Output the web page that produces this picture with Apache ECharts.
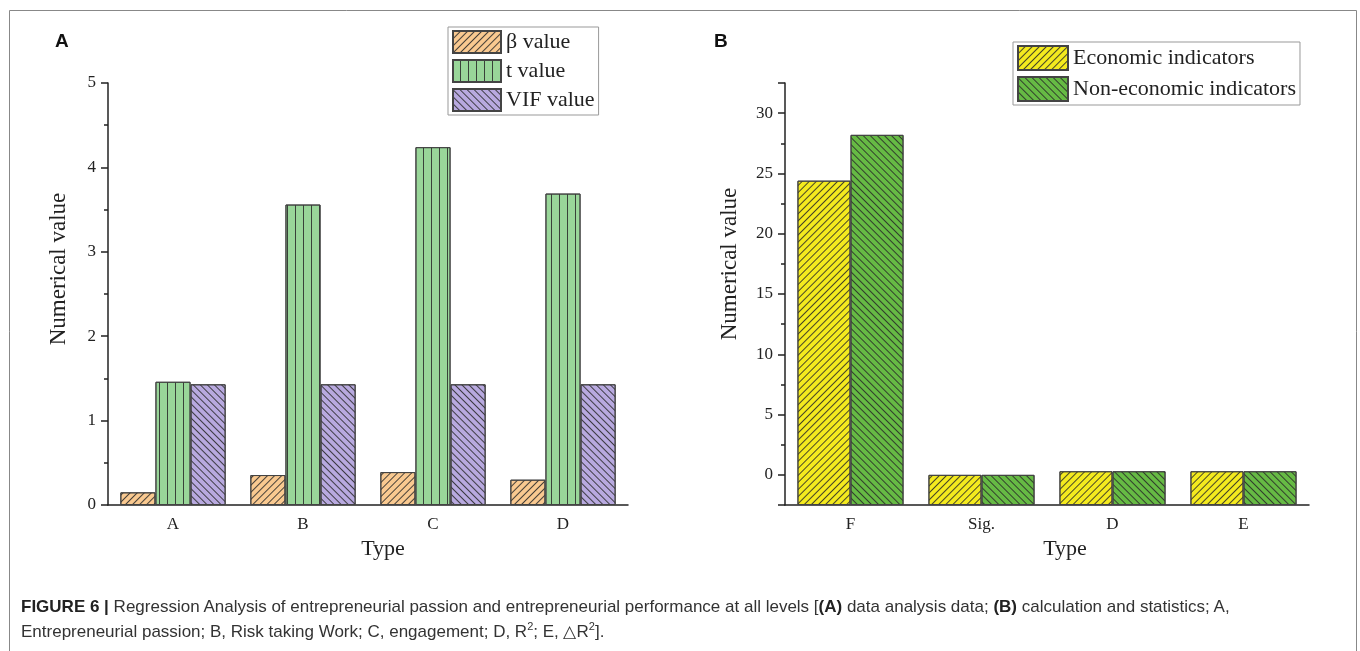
<!DOCTYPE html>
<html>
<head>
<meta charset="utf-8">
<title>Figure 6</title>
<script src="https://cdn.jsdelivr.net/npm/echarts@6/dist/echarts.min.js"></script>
<style>
  html, body { margin: 0; padding: 0; background: #fff; }
  #wrap { position: relative; width: 1360px; height: 651px; }
  #main { position: absolute; left: 0; top: 0; width: 1360px; height: 651px; }
  .cap { position: absolute; left: 21px; font-family: 'Liberation Sans', sans-serif;
         font-size: 17px; color: #333; white-space: nowrap; line-height: 20px; }
  .cap b { color: #222; }
  .cap sup { font-size: 11px; line-height: 0; }
  #cap1 { top: 597px; }
  #cap2 { top: 622px; }
</style>
</head>
<body>
<div id="wrap">
  <div id="main"></div>
  <div id="cap1" class="cap"><b>FIGURE 6 |</b> Regression Analysis of entrepreneurial passion and entrepreneurial performance at all levels [<b>(A)</b> data analysis data; <b>(B)</b> calculation and statistics; A,</div>
  <div id="cap2" class="cap">Entrepreneurial passion; B, Risk taking Work; C, engagement; D, R<sup>2</sup>; E, △R<sup>2</sup>].</div>
</div>
<script>
// panel A: data analysis data
var typesA = ['A', 'B', 'C', 'D'];
var betaValue = [0.15, 0.355, 0.39, 0.30];
var tValue = [1.46, 3.56, 4.24, 3.69];
var vifValue = [1.43, 1.43, 1.43, 1.43];

// panel B: calculation and statistics
var typesB = ['F', 'Sig.', 'D', 'E'];
var economic = [24.4, 0.0, 0.3, 0.3];
var nonEconomic = [28.2, 0.0, 0.3, 0.3];

var serif = 'Liberation Serif';
var ink = '#222';

// line hatch, rotated
function hatch(rot, gap) {
  return {
    symbol: 'rect',
    symbolSize: 1,
    dashArrayX: [1, 0],
    dashArrayY: [1, gap],
    rotation: rot,
    color: 'rgba(40,40,40,0.85)'
  };
}

function barSeries(name, data, idx, color, decal) {
  return {
    name: name,
    type: 'bar',
    xAxisIndex: idx,
    yAxisIndex: idx,
    data: data,
    barGap: '0%',
    barCategoryGap: '19%',
    itemStyle: { color: color, borderColor: '#444', borderWidth: 1, decal: decal },
    emphasis: { disabled: true }
  };
}

var axisLine = { show: true, onZero: false, lineStyle: { color: ink, width: 1.5 } };
var tickStyle = { color: ink, width: 1.5 };

function catAxis(idx, data, pad) {
  return {
    gridIndex: idx,
    type: 'category',
    data: data,
    axisLine: axisLine,
    axisTick: { alignWithLabel: true, length: 6, lineStyle: tickStyle },
    axisLabel: { fontFamily: serif, fontSize: 17, color: ink, margin: 11 },
    name: 'Type',
    nameLocation: 'middle',
    nameGap: 29,
    nameTextStyle: { fontFamily: serif, fontSize: 22, color: ink, padding: [0, 0, 0, pad] }
  };
}

var chart = echarts.init(document.getElementById('main'));
chart.setOption({
  animation: false,
  backgroundColor: '#fff',
  grid: [
    { left: 108, top: 83, width: 520, height: 422 },
    { left: 785, top: 83, width: 524, height: 422 }
  ],
  legend: [{
    data: ['β value', 't value', 'VIF value'],
    left: 448, top: 27,
    orient: 'vertical',
    icon: 'rect',
    itemWidth: 48, itemHeight: 22, itemGap: 5,
    padding: [3, 4, 3, 4],
    borderColor: '#999', borderWidth: 1,
    textStyle: { fontFamily: serif, fontSize: 22, color: ink }
  }, {
    data: ['Economic indicators', 'Non-economic indicators'],
    left: 1013, top: 42,
    orient: 'vertical',
    icon: 'rect',
    itemWidth: 50, itemHeight: 24, itemGap: 5,
    padding: [3, 4, 3, 4],
    borderColor: '#999', borderWidth: 1,
    textStyle: { fontFamily: serif, fontSize: 22, color: ink }
  }],
  xAxis: [catAxis(0, typesA, 30), catAxis(1, typesB, 36)],
  yAxis: [{
    gridIndex: 0,
    type: 'value',
    min: 0, max: 5, interval: 1,
    axisLine: axisLine,
    axisTick: { show: true, length: 7, lineStyle: tickStyle },
    minorTick: { show: true, splitNumber: 2, length: 4, lineStyle: tickStyle },
    splitLine: { show: false },
    axisLabel: { fontFamily: serif, fontSize: 17, color: ink, margin: 12 },
    name: 'Numerical value',
    nameLocation: 'middle',
    nameGap: 38,
    nameTextStyle: { fontFamily: serif, fontSize: 23, color: ink, padding: [0, 0, 0, 50] }
  }, {
    gridIndex: 1,
    type: 'value',
    min: -2.5, max: 32.5, splitNumber: 7,
    startValue: -2.5,
    axisLine: axisLine,
    axisTick: { show: true, length: 7, lineStyle: tickStyle },
    minorTick: { show: true, splitNumber: 2, length: 4, lineStyle: tickStyle },
    splitLine: { show: false },
    axisLabel: {
      fontFamily: serif, fontSize: 17, color: ink, margin: 12,
      formatter: function (v) { return v % 5 === 0 ? String(v) : ''; }
    },
    name: 'Numerical value',
    nameLocation: 'middle',
    nameGap: 44,
    nameTextStyle: { fontFamily: serif, fontSize: 23, color: ink, padding: [0, 0, 0, 60] }
  }],
  series: [
    barSeries('β value', betaValue, 0, '#F9C990', hatch(-Math.PI / 4, 4)),
    barSeries('t value', tValue, 0, '#99D699', hatch(Math.PI / 2, 7)),
    barSeries('VIF value', vifValue, 0, '#B8A9DF', hatch(Math.PI / 4, 4)),
    barSeries('Economic indicators', economic, 1, '#F4EA1E', hatch(-Math.PI / 4, 4)),
    barSeries('Non-economic indicators', nonEconomic, 1, '#66BA44', hatch(Math.PI / 4, 4))
  ],
  graphic: [
    { type: 'rect', left: 7, top: 8, shape: { width: 1347, height: 700 },
      style: { fill: 'none', stroke: '#888', lineWidth: 1 }, silent: true },
    { type: 'text', left: 55, top: 32,
      style: { text: 'A', fontFamily: 'Liberation Sans', fontWeight: 'bold', fontSize: 19, fill: '#111' } },
    { type: 'text', left: 714, top: 32,
      style: { text: 'B', fontFamily: 'Liberation Sans', fontWeight: 'bold', fontSize: 19, fill: '#111' } }
  ]
});
</script>
</body>
</html>
